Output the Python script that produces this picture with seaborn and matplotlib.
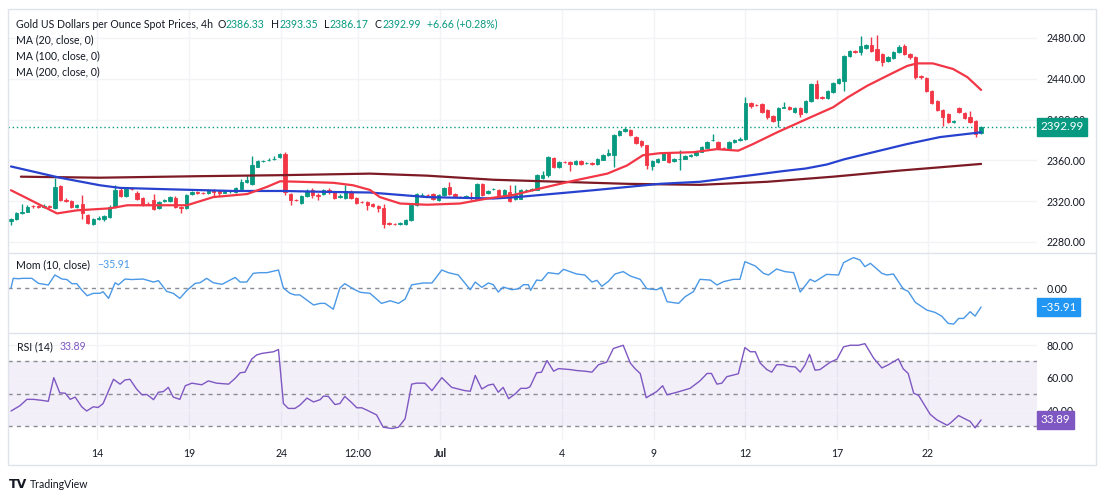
import matplotlib
matplotlib.use("Agg")
import matplotlib.pyplot as plt
import seaborn as sns
import numpy as np
from matplotlib.lines import Line2D
from matplotlib.patches import Rectangle

# ---------------- data (4h candles) ----------------
opens = [
    2300.5, 2303, 2308, 2309.6, 2315.2, 2314.8, 2314, 2315.5, 2313, 2334.5,
    2321.5, 2320, 2314, 2317, 2306.5, 2298, 2303, 2302.5, 2304.5, 2314.5,
    2331.4, 2325.5, 2332.4, 2328.4, 2323.5, 2317.7, 2321.5, 2313, 2320.5, 2320.3,
    2323.5, 2314.5, 2313, 2326.8, 2328.8, 2328.3, 2328, 2330.7, 2329.5, 2328.5,
    2329.5, 2329, 2332.4, 2339, 2337, 2353.5, 2359, 2360, 2361, 2363.3,
    2366, 2327, 2321.5, 2318.5, 2325, 2330.7, 2326, 2327.5, 2331.4, 2329,
    2324.5, 2323, 2329, 2323.5, 2319.5, 2319, 2317.5, 2315.5, 2313, 2298.5,
    2298, 2297.5, 2298, 2301.5, 2316, 2326, 2326.5, 2326.8, 2321, 2326,
    2334, 2327.5, 2324.5, 2324, 2324.3, 2322.6, 2337, 2328.5, 2331.5, 2330.7,
    2325, 2329, 2322.6, 2322.6, 2330.7, 2330.5, 2331.4, 2343.1, 2345.4, 2362.6,
    2353.5, 2358.4, 2358.4, 2356.7, 2359, 2357, 2357, 2356.1, 2360.7, 2364.9,
    2365.5, 2384.4, 2388.3, 2389.3, 2382.8, 2378.8, 2374.6, 2354.1, 2358.4, 2360.7,
    2367.1, 2359.3, 2361, 2361.6, 2363.9, 2364.9, 2368.5, 2372.4, 2379.5, 2378,
    2372.4, 2372.4, 2378, 2379.5, 2380.5, 2416, 2414.5, 2415, 2409, 2403.5,
    2400, 2411.5, 2412, 2407, 2411, 2407, 2418.5, 2434.5, 2422, 2421.5,
    2427, 2436, 2438, 2462, 2467.5, 2466, 2470.5, 2473, 2469.5, 2464,
    2457.6, 2460.5, 2466.5, 2472, 2464.5, 2461, 2443, 2441, 2428, 2418.5,
    2409.5, 2405.6, 2397.5, 2411, 2406, 2402, 2399, 2386.33,
]
highs = [
    2304, 2309, 2317.7, 2316, 2316.5, 2316, 2317, 2316, 2343, 2336,
    2323, 2321, 2317.5, 2326, 2307, 2304, 2305, 2306.5, 2316, 2335.6,
    2333, 2334, 2334, 2329.5, 2324.5, 2319, 2327, 2320.5, 2322.5, 2325,
    2325, 2315, 2327, 2330, 2329.5, 2329, 2331.5, 2331.5, 2330.5, 2331,
    2331, 2333.5, 2342, 2346, 2364.5, 2360, 2360.5, 2362, 2364.5, 2367.5,
    2368.5, 2328, 2322.5, 2326, 2331.5, 2333, 2328, 2332, 2333, 2330,
    2327, 2335.6, 2330.5, 2324.5, 2320.5, 2320, 2318.5, 2316.5, 2317.7, 2299.5,
    2299, 2299.5, 2302.5, 2317, 2328, 2328, 2327.5, 2328, 2327, 2334,
    2339, 2328.5, 2325.5, 2326, 2329, 2338, 2338, 2331, 2333, 2331.5,
    2331.5, 2335.6, 2335.6, 2331.5, 2332, 2332.5, 2346.5, 2349.3, 2364.5, 2363.5,
    2359.5, 2359.5, 2359.5, 2360, 2360, 2358.5, 2358, 2362.5, 2366, 2371,
    2385.5, 2389.5, 2392.5, 2390.5, 2384, 2379.5, 2375.5, 2360.5, 2362.5, 2368,
    2368, 2362.5, 2370.4, 2365, 2366.5, 2369, 2374, 2378.5, 2386, 2379,
    2373.5, 2379, 2380.5, 2383, 2422, 2417, 2415.5, 2416, 2410, 2404.5,
    2412, 2417, 2413, 2412, 2412, 2419.5, 2436, 2439, 2423, 2429,
    2437, 2441, 2463, 2468.5, 2468.5, 2481.5, 2474, 2481, 2483, 2465,
    2462, 2467.5, 2473, 2474, 2465.5, 2462, 2444, 2442, 2429, 2419.5,
    2410.5, 2406.5, 2400, 2412, 2407, 2408, 2400, 2393.35,
]
lows = [
    2297, 2302, 2307, 2309, 2313.5, 2313, 2313, 2313, 2312, 2320,
    2319, 2313, 2313, 2303, 2298, 2296.5, 2302, 2301, 2304, 2313,
    2324, 2324.5, 2331, 2321.5, 2315, 2316, 2311, 2312, 2319.5, 2319.5,
    2313.5, 2308, 2312, 2326, 2327.5, 2327.5, 2327.5, 2325, 2325, 2328,
    2328.5, 2328, 2331.5, 2338, 2336, 2353, 2358.5, 2359.5, 2360.5, 2362.5,
    2326, 2316, 2320, 2317, 2324, 2323, 2321, 2326, 2327.5, 2322,
    2323.5, 2322, 2322.5, 2317, 2318, 2311, 2314, 2309.6, 2294, 2297,
    2296.5, 2296.5, 2297, 2300.5, 2315, 2325, 2325, 2321.5, 2320, 2325,
    2326.5, 2324, 2323, 2323.5, 2321, 2321.5, 2325, 2327.5, 2331, 2325,
    2324, 2319.3, 2321.5, 2322, 2330, 2329.5, 2330.5, 2342, 2344, 2352.5,
    2352.5, 2357, 2350, 2355.5, 2355, 2356, 2355, 2355, 2360, 2364,
    2353.5, 2383.5, 2387.5, 2384, 2376, 2373.5, 2351.5, 2351, 2357.5, 2360,
    2357.5, 2358.5, 2350.2, 2361, 2363, 2364, 2368, 2372, 2378.5, 2371.5,
    2371, 2371.5, 2377, 2378.5, 2380, 2411, 2413, 2406, 2401, 2398,
    2392.5, 2411, 2409.5, 2406, 2402, 2406, 2417.5, 2420.5, 2420.5, 2420.5,
    2426, 2435, 2428, 2461, 2465.5, 2463.5, 2469.5, 2466.5, 2457, 2452,
    2456.5, 2459.5, 2465.5, 2463, 2459.5, 2440, 2440, 2427, 2415.5, 2408,
    2394, 2396.5, 2396.5, 2406, 2400.5, 2396.5, 2383, 2386.17,
]
closes = [
    2303, 2308, 2309.6, 2314.5, 2314.8, 2314, 2315.5, 2314.2, 2334, 2321,
    2320, 2314, 2316, 2308, 2299, 2303, 2303.5, 2305.5, 2314.5, 2331.4,
    2325, 2332.4, 2332, 2322.6, 2316, 2317, 2312, 2319.3, 2321, 2324,
    2314.5, 2313, 2326, 2329, 2328.3, 2328.1, 2330.7, 2329, 2328.5, 2329.5,
    2330, 2332.7, 2338.9, 2340.5, 2355, 2359, 2359.5, 2360.7, 2361.6, 2366.5,
    2329, 2321, 2321, 2325, 2330, 2326, 2325, 2330.7, 2329, 2323.5,
    2325.5, 2329.5, 2323.5, 2318.5, 2319, 2316, 2315.5, 2313, 2298, 2298,
    2297.5, 2298.5, 2301.5, 2316, 2327, 2326.5, 2326, 2322.6, 2326, 2333,
    2327.5, 2325, 2324, 2325, 2324, 2337, 2326, 2330, 2332, 2326,
    2330.7, 2320.3, 2326, 2330.7, 2331, 2331.5, 2345.4, 2345.4, 2363.3, 2353.5,
    2358.4, 2358, 2356.7, 2359, 2356.1, 2357.4, 2356.7, 2361.6, 2364.9, 2367.1,
    2384.4, 2388.3, 2390.9, 2385, 2376.9, 2374.6, 2355, 2359.3, 2361.6, 2367.1,
    2358.4, 2361.6, 2361.6, 2363.9, 2365.5, 2368.1, 2373, 2377.5, 2379.8, 2372.4,
    2372, 2378, 2379.5, 2381, 2416, 2413, 2414, 2407, 2402, 2399,
    2411, 2412, 2410.5, 2411, 2405.6, 2418.5, 2434.5, 2421.5, 2421.5, 2428,
    2436, 2439.7, 2462, 2467.5, 2466.5, 2472, 2473, 2467.5, 2458, 2456,
    2461, 2466.5, 2471, 2464, 2461, 2441.5, 2441.5, 2428, 2416.5, 2409,
    2402, 2397.5, 2399, 2407, 2401.5, 2397.5, 2386.3, 2392.99,
]

# moving averages (candle index, value)
ma20_x = [0, 8.4, 12.0, 18.1, 21.2, 27.2, 32.1, 36.9, 43.1, 46.7, 49.1, 52.7, 58.8, 62.4, 65.5,
          67.3, 71.0, 75.9, 81.9, 86.9, 91.6, 96.5, 102.6, 108.8, 112.4, 115.3, 118.4, 124.5,
          128.8, 132.7, 135.4, 139.8, 145.8, 150.0, 152.6, 156.2, 159.9, 163.5, 165.3, 168.2,
          171.9, 174.5, 177]
ma20_y = [2330.7, 2308, 2311, 2313, 2316, 2316, 2316, 2324, 2327, 2334, 2339.5, 2339, 2338, 2335.6, 2331,
          2324, 2317.7, 2316.5, 2317.7, 2322.6, 2326, 2332.4, 2340, 2347, 2355, 2365, 2367, 2368,
          2371, 2369.5, 2376, 2387.5, 2402, 2412, 2421.5, 2433, 2443, 2452.5, 2455, 2455,
          2449.5, 2441.5, 2429]
ma100_x = [0, 8.9, 16.2, 19.9, 28.5, 40.5, 49.6, 58.8, 65.5, 75.9, 88.0, 92.3, 106.2, 118.4, 125.7,
           133.0, 140.9, 145.0, 148.9, 152.0, 156.2, 163.5, 169.5, 177]
ma100_y = [2354, 2343, 2335.6, 2333, 2331.7, 2330, 2330, 2329, 2328.5, 2324, 2322.6, 2324, 2330.7, 2337, 2339,
           2344, 2349.5, 2352, 2356, 2361, 2366.5, 2376, 2382.8, 2387.5]
ma200_x = [1.8, 16.2, 34.5, 49.6, 65.5, 75.9, 88.0, 100.2, 112.4, 125.7, 138.0, 150.0, 162.2, 177]
ma200_y = [2344, 2343, 2344.5, 2345.5, 2347, 2345, 2341, 2339, 2337, 2336, 2339, 2344, 2350, 2356.5]

# momentum (10, close)
mom_x = [0, 0.4, 1.3, 2.2, 3.8, 5.0, 6.8, 8.0, 9.3, 10.2, 11.1, 12.0, 12.9, 13.9, 15.0, 16.2, 16.8,
         17.8, 19.0, 19.6, 20.8, 22.0, 24.1, 26.0, 26.9, 28.4, 29.6, 30.8, 32.1, 33.6, 34.5, 35.7,
         36.9, 38.5, 40.0, 40.9, 41.8, 43.0, 44.2, 45.4, 46.7, 48.8, 49.7, 50.9, 51.8, 52.7, 55.2,
         56.4, 57.3, 58.8, 60.0, 60.9, 62.5, 63.7, 65.5, 67.6, 69.2, 70.7, 71.9, 73.1, 75.2, 76.8,
         78.6, 79.8, 81.6, 82.8, 83.8, 84.7, 85.9, 87.1, 88.0, 88.9, 89.8, 91.4, 92.6, 93.5, 94.4,
         94.8, 95.9, 96.8, 98.0, 99.9, 100.8, 102.0, 103.2, 104.7, 106.0, 106.9, 107.8, 109.0,
         110.2, 111.7, 113.0, 114.8, 116.0, 117.8, 118.7, 119.7, 121.8, 123.0, 124.5, 125.7,
         127.6, 128.8, 130.0, 131.8, 133.0, 133.9, 135.8, 137.3, 138.2, 139.7, 141.2, 142.8,
         144.0, 145.8, 146.7, 148.8, 151.0, 151.9, 153.7, 154.9, 155.8, 156.8, 158.9, 159.8,
         161.0, 162.8, 163.7, 165.0, 167.1, 168.6, 169.8, 171.0, 172.0, 172.9, 173.8, 175.0,
         175.9, 177]
mom_y = [0, 18.3, 17.6, 18.3, 18.3, 8.8, 5.7, 24.6, 17, 16, 8.2, 8.2, -3.8, -14.5, -10, -10, -7,
         -19.5, 10, 6, 17, 16, 17, 11.3, 13.9, -6.3, -10, -19.5, -4.4, 8.8, 10, 18.3,
         10, 7, 15, 20, 11.3, 11.3, 27.7, 29, 29, 34, 0, -10, -13, -13, -32,
         -29, -29, -40, 0, 8.2, -1.9, -8, -10, -29, -24, -29, -21, 6, 9.5, 9.5,
         34, 29, 24.6, 9.5, -3.2, 11.3, 1.3, 9.5, 6.3, -7.6, 1.9, -3.2, -1.3, 6.3, 6.3,
         -4.4, 15, 14, 29, 26.5, 35.3, 31, 26.5, 24.6, 11.3, 14.5, 3.2, 12.6,
         26.5, 31, 22.7, 16.4, -1.3, -3.2, 1.3, -25.8, -29, -16.4, -6.9, 16.4,
         15, 5.7, 12, 16.4, 16.4, 49.8, 41.6, 27.7, 24.6, 35.9, 31, 29,
         -7.6, 16.4, 12, 25.8, 24.6, 47.9, 57.4, 53, 40.3, 46.6, 27.7, 24.6,
         26.5, -1.9, -6.3, -27, -41.6, -46, -53, -66.8, -68, -57.4, -57.4, -44.7,
         -53, -35.91]

# RSI (14)
rsi_x = [0, 1.6, 2.9, 4.1, 5.6, 6.8, 7.8, 8.9, 9.9, 10.8, 11.7, 12.9, 13.8, 15.0, 15.9, 16.8,
         18.7, 19.9, 20.8, 21.7, 22.9, 23.9, 24.8, 26.0, 26.9, 27.8, 28.7, 29.6, 30.8, 31.8,
         33.0, 34.8, 36.0, 37.5, 39.7, 40.9, 41.8, 42.7, 43.9, 44.8, 45.8, 47.0, 47.9, 48.8,
         49.7, 50.6, 51.8, 52.7, 54.0, 55.2, 56.4, 57.0, 57.9, 59.1, 60.0, 60.9, 61.9, 63.1,
         64.0, 64.9, 66.7, 67.9, 69.5, 70.7, 71.9, 73.1, 74.0, 75.5, 76.8, 78.6, 80.4, 81.6,
         82.8, 83.8, 84.7, 85.9, 87.1, 88.0, 88.9, 89.8, 90.8, 92.0, 93.0, 94.1, 94.7, 95.9,
         96.8, 97.8, 99.0, 99.9, 102.0, 103.2, 104.7, 106.0, 107.2, 108.7, 109.9, 111.7,
         113.0, 113.9, 114.8, 115.9, 117.8, 118.9, 119.7, 121.5, 123.9, 125.7, 127.0, 127.8,
         128.8, 129.7, 130.6, 132.7, 133.9, 134.9, 135.8, 136.7, 137.9, 138.8, 139.7, 140.9,
         141.8, 143.1, 144.0, 144.9, 145.7, 146.7, 147.6, 149.5, 150.7, 151.9, 153.1, 154.6,
         155.8, 157.4, 158.9, 160.1, 161.9, 162.8, 163.7, 164.7, 165.6, 166.5, 167.7, 168.9,
         170.8, 171.4, 172.9, 173.8, 175.0, 175.9, 177]
rsi_y = [39.4, 42.6, 46.6, 46.6, 46, 45.4, 60, 50.6, 50.4, 46.6, 48, 42, 39.4, 42, 41.6, 44,
         59, 56, 58.6, 59, 53, 49.4, 49.6, 46.4, 51, 51.4, 54, 48, 46.6, 55,
         56.6, 55.6, 58, 56.6, 56, 59.6, 63, 63.4, 71.4, 74, 75, 75.6, 76, 77.4,
         44, 41, 41, 43, 47.4, 45, 46.4, 48.6, 48.4, 43.4, 44, 48.4, 45.4, 41.4,
         41.4, 40, 37, 29.4, 28.6, 29.4, 34.6, 56, 56.6, 56.6, 52, 60, 54, 53,
         52, 51.6, 61.4, 53, 55.4, 56, 51, 54, 47, 50, 53.4, 53.4, 54.4, 63,
         63.4, 70.6, 64, 65.6, 65, 64.4, 64, 63.4, 68, 69.6, 78, 80,
         69, 65.4, 62.6, 47.6, 51.4, 55, 49.4, 51, 53.4, 58, 62.6, 62.6,
         56, 56.6, 60.6, 62.4, 78.6, 76, 76, 69, 65, 63.4, 68, 68,
         67, 66.6, 63.4, 68, 74.4, 64.6, 65, 69.6, 71.4, 79, 80, 80,
         81, 72, 66, 68, 71.6, 65.4, 62.6, 50.4, 49, 44, 37.4, 34,
         30.6, 32, 36.6, 35, 33, 29, 33.89]

tick_pos = [15.7, 32.5, 49.3, 63.3, 78.3, 100.5, 117.3, 133.9, 150.7, 167.3]
tick_labels = ["14", "19", "24", "12:00", "Jul", "4", "9", "12", "17", "22"]
price_ticks = [2280, 2320, 2360, 2400, 2440, 2480]

# ---------------- styling ----------------
sns.set_theme(style="white")
plt.rcParams['font.family'] = ['Lato', 'DejaVu Sans']

GREEN = "#089981"
RED = "#f23645"
BLUE100 = "#2742cf"
MAROON = "#7d1a24"
MOMC = "#4a98e6"
RSIC = "#7e57c2"
TXT = "#131722"
GRID = "#f2f3f6"
SEP = "#e0e3eb"
FS = 7.6

W, H = 1104, 500
fig = plt.figure(figsize=(W / 100, H / 100), dpi=100)
fig.patch.set_facecolor("white")


def fx(px):
    return px / W


def fy(py):
    return 1 - py / H


L, R = 8, 1037
ax_p = fig.add_axes([fx(L), fy(252), (R - L) / W, (252 - 9) / H])
ax_m = fig.add_axes([fx(L), fy(332), (R - L) / W, 80 / H], sharex=ax_p)
ax_r = fig.add_axes([fx(L), fy(440), (R - L) / W, 108 / H], sharex=ax_p)

for ax in (ax_p, ax_m, ax_r):
    ax.set_facecolor("white")
    for s in ax.spines.values():
        s.set_visible(False)
    for t in tick_pos:
        ax.axvline(t, color=GRID, lw=1, zorder=0)
    ax.yaxis.tick_right()
    ax.tick_params(axis="y", length=0, pad=7, labelsize=FS, labelcolor=TXT)
    ax.tick_params(axis="x", length=0)

ax_p.set_xlim(-0.55, 187.2)

# ---------------- price pane ----------------
idx = np.arange(len(closes))
o = np.array(opens)
c = np.array(closes)
h = np.array(highs)
lo = np.array(lows)
cols = np.where(c >= o, GREEN, RED)
for p in price_ticks:
    ax_p.axhline(p, color=GRID, lw=1, zorder=0)
ax_p.vlines(idx, lo, h, colors=cols, lw=1, zorder=3)
ax_p.bar(idx, np.abs(c - o), bottom=np.minimum(o, c), width=0.62, color=cols,
         edgecolor=cols, linewidth=0.6, zorder=4)

sns.lineplot(x=ma200_x, y=ma200_y, ax=ax_p, color=MAROON, lw=1.6, zorder=5)
sns.lineplot(x=ma100_x, y=ma100_y, ax=ax_p, color=BLUE100, lw=1.6, zorder=5)
sns.lineplot(x=ma20_x, y=ma20_y, ax=ax_p, color=RED, lw=1.6, zorder=6)

last = closes[-1]
ax_p.axhline(last, color=GREEN, lw=1, ls=(0, (1, 2)), zorder=2)
ax_p.set_ylim(2270.2, 2508.3)
ax_p.set_yticks(price_ticks)
ax_p.set_yticklabels([f"{p:.2f}" for p in price_ticks])
ax_p.tick_params(axis="x", labelbottom=False)
ax_p.annotate(f"{last:.2f}", xy=(1, last), xycoords=("axes fraction", "data"),
              xytext=(2.5, 0), textcoords="offset points", ha="left", va="center",
              color="white", fontsize=FS + 0.7,
              bbox=dict(boxstyle="square,pad=0.3", fc=GREEN, ec=GREEN),
              annotation_clip=False, zorder=10)

# ---------------- momentum pane ----------------
ax_m.axhline(0, color="#8a8d96", lw=1, ls=(0, (3, 3)), zorder=1)
sns.lineplot(x=mom_x, y=mom_y, ax=ax_m, color=MOMC, lw=1, zorder=4)
ax_m.set_ylim(-83, 68)
ax_m.set_yticks([0])
ax_m.set_yticklabels(["0.00"])
ax_m.tick_params(axis="x", labelbottom=False)
ax_m.annotate(f"\u2212{abs(mom_y[-1]):.2f}", xy=(1, mom_y[-1]), xycoords=("axes fraction", "data"),
              xytext=(2.5, 0), textcoords="offset points", ha="left", va="center",
              color="white", fontsize=FS + 0.7,
              bbox=dict(boxstyle="square,pad=0.3", fc="#2196f3", ec="#2196f3"),
              annotation_clip=False, zorder=10)

# ---------------- RSI pane ----------------
ax_r.axhspan(30, 70, color=RSIC, alpha=0.09, lw=0, zorder=0)
for g in (40, 60, 80):
    ax_r.axhline(g, color=GRID, lw=1, zorder=0)
for lvl in (70, 50, 30):
    ax_r.axhline(lvl, color="#8a8d96", lw=1, ls=(0, (3, 3)), zorder=1)
sns.lineplot(x=rsi_x, y=rsi_y, ax=ax_r, color=RSIC, lw=1, zorder=4)
ax_r.set_ylim(21.5, 88.2)
ax_r.set_yticks([40, 60, 80])
ax_r.set_yticklabels(["40.00", "60.00", "80.00"])
ax_r.set_xticks(tick_pos)
ax_r.set_xticklabels(tick_labels)
ax_r.tick_params(axis="x", labelsize=FS, labelcolor=TXT, pad=6)
for lab in ax_r.get_xticklabels():
    if lab.get_text() == "Jul":
        lab.set_fontweight("bold")
ax_r.annotate(f"{rsi_y[-1]:.2f}", xy=(1, rsi_y[-1]), xycoords=("axes fraction", "data"),
              xytext=(2.5, 0), textcoords="offset points", ha="left", va="center",
              color="white", fontsize=FS + 0.7,
              bbox=dict(boxstyle="square,pad=0.3", fc=RSIC, ec=RSIC),
              annotation_clip=False, zorder=10)
for ax in (ax_p, ax_m, ax_r):
    ax.set_xlabel("")
    ax.set_ylabel("")

# ---------------- frame, separators, texts ----------------
fig.patches.append(Rectangle((fx(8), fy(465)), (1096 - 8) / W, (465 - 9) / H,
                             transform=fig.transFigure, fill=False, ec=SEP, lw=1))
for yy in (252.5, 332.5):
    fig.lines.append(Line2D([fx(8), fx(1096)], [fy(yy), fy(yy)], transform=fig.transFigure,
                            color=SEP, lw=1))


def ftext(x, y, s, color=TXT, **kw):
    return fig.text(fx(x), fy(y), s, color=color, fontsize=FS, va="center", ha="left", **kw)


def after(ax, prev, s, color, gap):
    return ax.annotate(s, xy=(1, 0), xycoords=prev, xytext=(gap, 0),
                       textcoords="offset pixels", ha="left", va="bottom",
                       color=color, fontsize=FS, annotation_clip=False, zorder=20)


t = ftext(16, 24, "Gold US Dollars per Ounce Spot Prices, 4h")
for s, col, gap in [("O", TXT, 4), ("2386.33", GREEN, 0.5), ("H", TXT, 6),
                    ("2393.35", GREEN, 0.5), ("L", TXT, 6), ("2386.17", GREEN, 0.5),
                    ("C", TXT, 6), ("2392.99", GREEN, 0.5), ("+6.66 (+0.28%)", GREEN, 6)]:
    t = after(ax_p, t, s, col, gap)
ftext(16, 40, "MA (20, close, 0)")
ftext(16, 56, "MA (100, close, 0)")
ftext(16, 72, "MA (200, close, 0)")
t = ftext(16.5, 265, "Mom (10, close)")
after(ax_m, t, "\u221235.91", MOMC, 7)
t = ftext(17, 347, "RSI (14)")
after(ax_r, t, "33.89", RSIC, 7)

fig.text(fx(9), fy(484), "TV", color=TXT, fontsize=9, fontweight="heavy", va="center",
         ha="left", family="DejaVu Sans")
ftext(30, 484, "TradingView")

fig.savefig("out.png", dpi=100, facecolor="white")
